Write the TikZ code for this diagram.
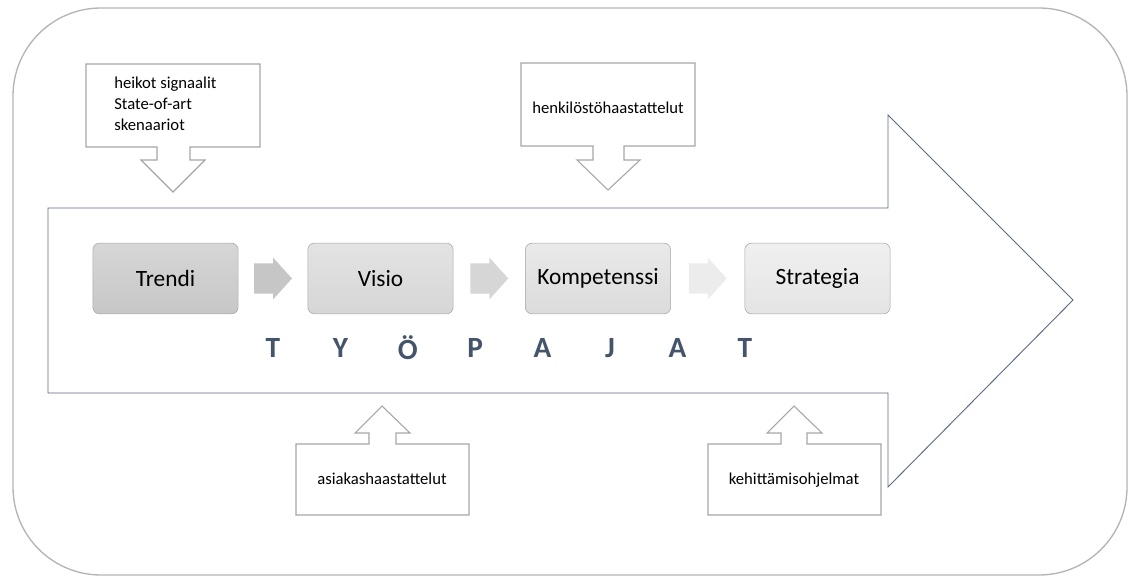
\documentclass[tikz,border=0pt]{standalone}
\usepackage{fontspec}
\setmainfont{Carlito}
\usetikzlibrary{calc}
\definecolor{framegray}{HTML}{B4B4B4}
\definecolor{arrowblue}{HTML}{5A6A82}
\definecolor{letterblue}{HTML}{44546A}
\definecolor{calloutgray}{HTML}{A6A6A6}
\tikzset{
  procbox/.style={draw=gray!70,rounded corners=5pt,minimum width=109pt,minimum height=53pt,font=\fontsize{17.5}{20}\selectfont},
  callout/.style={draw=calloutgray,line width=0.8pt,fill=white},
  calltext/.style={font=\fontsize{12.5}{15.75}\selectfont,inner sep=0pt},
  letter/.style={text=letterblue,font=\bfseries\fontsize{22}{24}\selectfont}
}
\begin{document}
\begin{tikzpicture}[x=0.75pt,y=-0.75pt]
\useasboundingbox (0,0) rectangle (1131,577);
% frame
\draw[framegray,line width=1pt,rounded corners=66pt] (13,8) rectangle (1127,575);
% big arrow
\draw[arrowblue,line width=0.7pt] (48,208)--(888,208)--(888,115)--(1073,300)--(888,487)--(888,393)--(48,393)--cycle;
% process boxes
\node [procbox,top color=gray!32,bottom color=gray!44,name=trendi] at (165.5,278.5){Trendi};
\node [procbox,top color=gray!22,bottom color=gray!32,name=visio] at (380.5,278.5){Visio};
\node [procbox,top color=gray!17,bottom color=gray!28,name=komp] at (598,278.5){Kompetenssi};
\node [procbox,top color=gray!12,bottom color=gray!21,name=strat] at (817.5,278.5){Strategia};
% small arrows between boxes
\coordinate (c1) at ($(trendi.east)!0.5!(visio.west)$);
\coordinate (c2) at ($(visio.east)!0.5!(komp.west)$);
\coordinate (c3) at ($(komp.east)!0.5!(strat.west)$);
\fill[gray!45] (c1) ++(-19,-15)--++(19,0)--++(0,-6)--++(19,21)--++(-19,21)--++(0,-6)--++(-19,0)--cycle;
\fill[gray!32] (c2) ++(-19,-15)--++(19,0)--++(0,-6)--++(19,21)--++(-19,21)--++(0,-6)--++(-19,0)--cycle;
\fill[gray!15] (c3) ++(-19,-15)--++(19,0)--++(0,-6)--++(19,21)--++(-19,21)--++(0,-6)--++(-19,0)--cycle;
% TYÖPAJAT
\foreach \l [count=\i] in {T,Y,Ö,P,A,J,A,T}
  \node [letter,name=l\i] at ({273+67.4*(\i-1)},348){\l};
% callouts above
\draw[callout] (86,64)--(260,64)--(260,147)--(190,147)--(190,160)--(205,160)--(173,192)--(141,160)--(157,160)--(157,147)--(86,147)--cycle;
\node [calltext,align=left,anchor=north west,name=signals] at (114,77){heikot signaalit\\State-of-art\\skenaariot};
\draw[callout] (521,63)--(695,63)--(695,146)--(624,146)--(624,160)--(640,160)--(608,190)--(577,160)--(593,160)--(593,146)--(521,146)--cycle;
\node [calltext,name=henk] at (608,108){henkilöstöhaastattelut};
% callouts below
\draw[callout] (296,515)--(469,515)--(469,444)--(396,444)--(396,433)--(410,433)--(382,406)--(355,433)--(369,433)--(369,444)--(296,444)--cycle;
\node [calltext,name=asiakas] at (382,479){asiakashaastattelut};
\draw[callout] (708,515)--(881,515)--(881,444)--(807,444)--(807,433)--(822,433)--(794,406)--(767,433)--(781,433)--(781,444)--(708,444)--cycle;
\node [calltext,name=kehit] at (794,480){kehittämisohjelmat};
\end{tikzpicture}
\end{document}
